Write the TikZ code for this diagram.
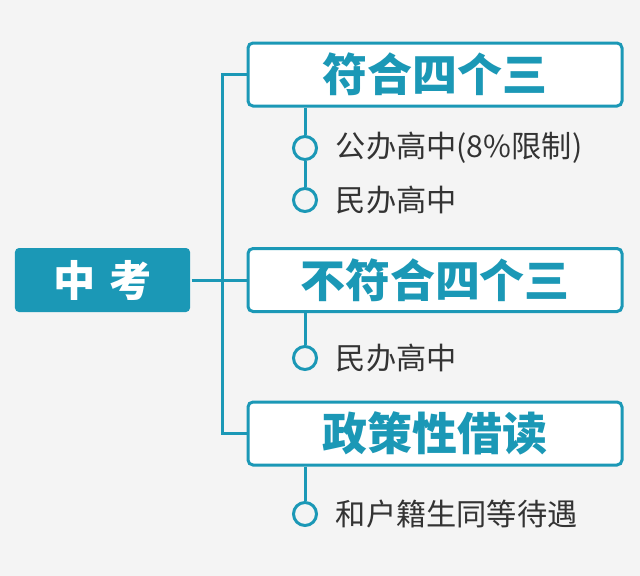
\documentclass[tikz,border=0pt]{standalone}
\usepackage{fontspec}
\setmainfont{Noto Sans CJK SC}
\usetikzlibrary{positioning}
\definecolor{teal1}{HTML}{1B98B6}
\definecolor{bgc}{HTML}{F4F4F4}
\definecolor{txt}{HTML}{333333}
\begin{document}
\begin{tikzpicture}[
    x=0.5mm, y=-0.5mm,
    line width=1.5mm,
    conn/.style={draw=teal1},
    rootbox/.style={fill=teal1, rounded corners=2mm, minimum width=87.5mm, minimum height=32mm, text=white, font=\fontsize{60}{64}\selectfont\bfseries},
    catbox/.style={draw=teal1, fill=white, rounded corners=2.5mm, minimum width=187mm, minimum height=31.5mm, text=teal1, font=\fontsize{64}{68}\selectfont\bfseries},
    dot/.style={circle, draw=teal1, fill=bgc, minimum size=11.5mm, inner sep=0pt},
    item/.style={right=7mm of #1, text=txt, font=\fontsize{43}{46}\selectfont}
  ]
  \fill[bgc] (0,0) rectangle (640,576);

  % root and categories
  \node[rootbox] (root) at (102.5,280) {中\,\,考};
  \node[catbox] (cat1) at (435,74.5) {符合四个三};
  \node[catbox] (cat2) at (435,280) {不符合四个三};
  \node[catbox] (cat3) at (435,433.5) {政策性借读};

  % trunk
  \coordinate (top) at (222,74.5);
  \coordinate (mid) at (222,280);
  \coordinate (bot) at (222,433.5);
  \draw[conn] (root.east) -- (mid);
  \draw[conn] (cat1.west) -- (top) -- (bot) -- (cat3.west);
  \draw[conn] (mid) -- (cat2.west);

  % items
  \node[dot] (d1) at (305,148) {};
  \node[dot] (d2) at (305,200) {};
  \node[dot] (d3) at (305,358) {};
  \node[dot] (d4) at (305,514) {};
  \node[item=d1] (t1) {公办高中(8\%限制)};
  \node[item=d2] (t2) {民办高中};
  \node[item=d3] (t3) {民办高中};
  \node[item=d4] (t4) {和户籍生同等待遇};

  \draw[conn] (cat1.south -| d1) -- (d1) -- (d2);
  \draw[conn] (cat2.south -| d3) -- (d3);
  \draw[conn] (cat3.south -| d4) -- (d4);
\end{tikzpicture}
\end{document}
